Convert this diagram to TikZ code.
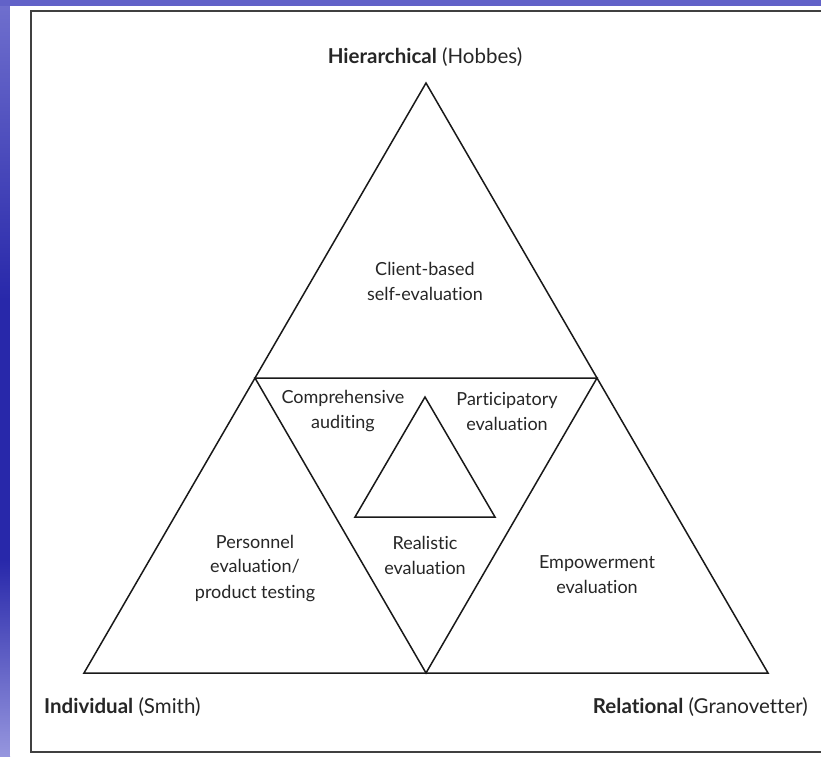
\documentclass[tikz,border=0pt]{standalone}
\usepackage{fontspec}
\setmainfont{Lato}[Ligatures=NoCommon]
\definecolor{SlideLight}{RGB}{112,112,206}
\definecolor{SlideDark}{RGB}{40,40,170}
\definecolor{SlidePale}{RGB}{150,150,222}
\definecolor{SlideTop}{RGB}{98,98,200}
\begin{document}
\begin{tikzpicture}[x=1pt,y=-1pt,
	lbl/.style={align=center,text=Ink,font=\fontsize{18}{25}\selectfont,inner sep=0pt},
	corner/.style={text=Ink,font=\fontsize{20.5}{24}\selectfont,inner sep=0pt,anchor=base}]
%\draw[help lines,step=50] (0,0) grid (821,756);
\colorlet{Ink}{black!85}
\colorlet{Edge}{black!90}
\useasboundingbox (0,0) rectangle (821,756);
%% Blue slide behind the page
\shade[top color=SlideLight,bottom color=SlideDark] (0,0) rectangle (10,300);
\fill[SlideDark] (0,300) rectangle (10,560);
\shade[top color=SlideDark,bottom color=SlidePale] (0,560) rectangle (10,756);
\fill[SlideTop] (0,0) rectangle (821,6);
\fill[white] (10,6) rectangle (821,756);
%% Frame of the figure
\draw[line width=1.5pt,black!75] (31,11) rectangle (830,752);
%%%%%%%%%%%%%%
%% Triangles %%
%%%%%%%%%%%%%%
\def\a{84}
\def\b{673}
\def\w{684}
\def\h{590}
\draw[line width=1.5pt,Edge,line join=miter] (\a,\b) -- (\a+\w,\b)
	-- (\a+\w/2,\b-\h) -- cycle;
%% upside-down one in the middle
\draw[line width=1.5pt,Edge] (\a+\w/4,\b-\h/2) -- (\a+3*\w/4,\b-\h/2)
	-- (\a+\w/2,\b) -- cycle;
%% small one inside it
\def\c{425}
\def\d{517}
\draw[line width=1.5pt,Edge] (\c-70,\d) -- (\c+70,\d) -- (\c,\d-120) -- cycle;
%%%%%%%%%%%%%%
%% Labels %%
%%%%%%%%%%%%%%
\node[corner] (hier) at (425,63) {\textbf{Hierarchical} (Hobbes)};
\node[corner,anchor=base west] (indiv) at (44,713) {\textbf{Individual} (Smith)};
\node[corner,anchor=base east] (relat) at (808,713) {\textbf{Relational} (Granovetter)};
%
\node[lbl] (client) at (425,281) {Client-based\\self-evaluation};
\node[lbl] (audit) at (343,411) {Comprehensive\\auditing};
\node[lbl] (partic) at (507,411) {Participatory\\evaluation};
\node[lbl] (person) at (255,568) {Personnel\\evaluation/\\product testing};
\node[lbl] (real) at (425,555) {Realistic\\evaluation};
\node[lbl] (empow) at (597,575) {Empowerment\\evaluation};
\end{tikzpicture}
\end{document}
